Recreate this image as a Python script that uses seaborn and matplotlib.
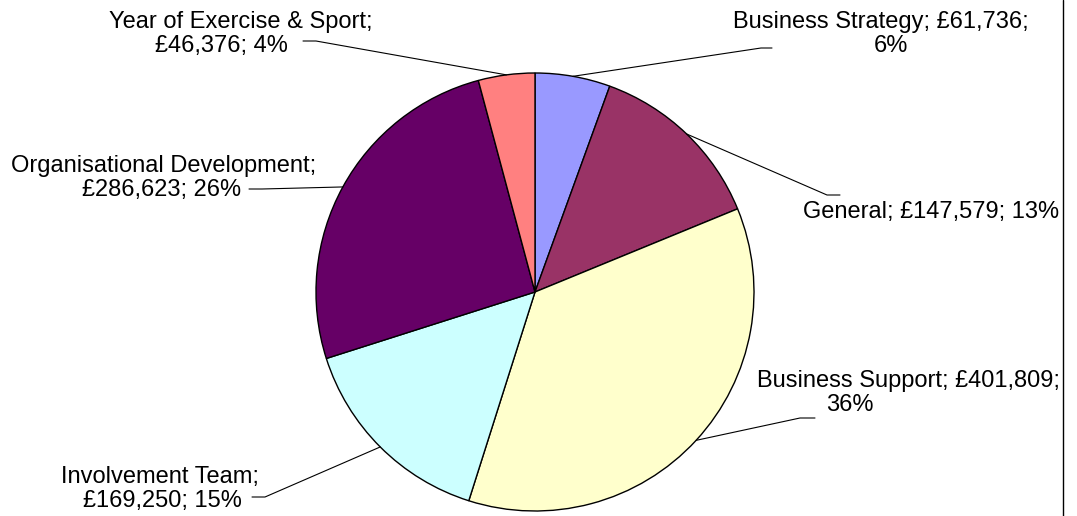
import matplotlib
matplotlib.use("Agg")
import matplotlib.pyplot as plt
import seaborn as sns
import numpy as np

# Budget by area, clockwise from 12 o'clock
categories = [
    "Business Strategy",
    "General",
    "Business Support",
    "Involvement Team",
    "Organisational Development",
    "Year of Exercise & Sport",
]
amounts = [61736, 147579, 401809, 169250, 286623, 46376]
colors = ["#9999FF", "#993366", "#FFFFCC", "#CCFFFF", "#660066", "#FF8080"]

sns.set_theme(style="white")
plt.rcParams["font.family"] = ["Liberation Sans", "DejaVu Sans"]

W, H = 1077, 516
fig = plt.figure(figsize=(W / 100, H / 100), dpi=100)
ax = fig.add_axes([0, 0, 1, 1])

center = (535, 292)
radius = 219
palette = sns.color_palette(colors)
wedges, _ = ax.pie(
    amounts,
    colors=palette,
    startangle=-90,
    counterclock=True,
    center=center,
    radius=radius,
    frame=True,
    wedgeprops=dict(edgecolor="black", linewidth=1.0),
)
ax.set_xlim(0, W)
ax.set_ylim(H, 0)
ax.set_aspect("auto")
ax.axis("off")

# Label placement (pixel space, y downwards):
# break after value?, line centres/baselines, leader elbow, leader end
layout = {
    "Business Strategy": (True, [(881, 28), (891, 52)], (761, 48), (772, 48)),
    "General": (None, [(931, 218)], (827, 195), (840, 195)),
    "Business Support": (True, [(908, 387), (850, 411)], (800, 418), (815, 418)),
    "Involvement Team": (False, [(160, 483), (162, 507)], (265, 497), (252, 497)),
    "Organisational Development": (False, [(164, 172), (162, 196)], (262, 189), (249, 189)),
    "Year of Exercise & Sport": (False, [(241, 28), (221, 52)], (316, 41), (303, 41)),
}

total = sum(amounts)
for w, name, val in zip(wedges, categories, amounts):
    pct = round(100 * val / total)
    split, lines, elbow, end = layout[name]
    if split is None:
        parts = [f"{name}; £{val:,}; {pct}%"]
    elif split:
        parts = [f"{name}; £{val:,};", f"{pct}%"]
    else:
        parts = [f"{name};", f"£{val:,}; {pct}%"]
    for txt, (x, y) in zip(parts, lines):
        ax.text(x, y, txt, ha="center", va="baseline", fontsize=17, color="black")

    mid = np.deg2rad((w.theta1 + w.theta2) / 2)
    px = center[0] + radius * np.cos(mid)
    py = center[1] + radius * np.sin(mid)
    ax.plot([px, elbow[0], end[0]], [py, elbow[1], end[1]], color="black", lw=0.8)

# right border of the chart area
fig.add_artist(plt.Line2D([1063 / W, 1063 / W], [0, 1], color="black", lw=1.0))

fig.savefig("out.png", dpi=100, facecolor="white")
